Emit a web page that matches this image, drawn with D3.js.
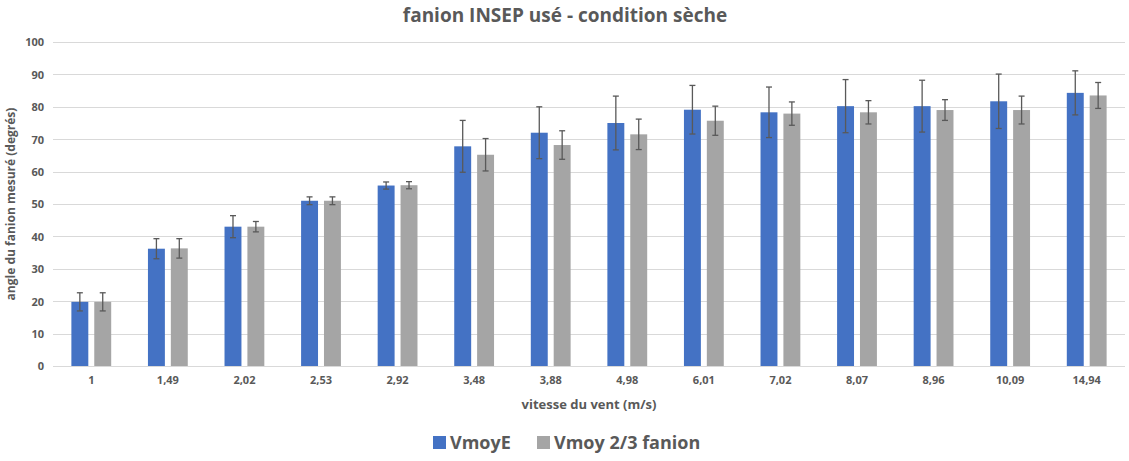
<!DOCTYPE html>
<html>
<head>
<meta charset="utf-8">
<script src="https://cdn.jsdelivr.net/npm/d3@7"></script>
<style>
  body { margin: 0; background: #fff; }
  text { font-family: "Open Sans", "Liberation Sans", sans-serif; fill: #595959; font-weight: bold; }
</style>
</head>
<body>
<div id="Area"></div>
<script>
// data
var categories = ["1", "1,49", "2,02", "2,53", "2,92", "3,48", "3,88", "4,98", "6,01", "7,02", "8,07", "8,96", "10,09", "14,94"];
var seriesNames = ["VmoyE", "Vmoy 2/3 fanion"];
var vmoyE =      [19.8, 36.2, 43.0, 51.0, 55.7, 67.8, 72.0, 75.0, 79.1, 78.3, 80.2, 80.2, 81.7, 84.3];
var vmoyEErr =   [2.8, 3.1, 3.4, 1.2, 1.1, 8.0, 8.0, 8.3, 7.5, 7.8, 8.2, 8.0, 8.4, 6.8];
var vmoy23 =     [19.8, 36.3, 43.0, 51.0, 55.8, 65.2, 68.2, 71.5, 75.7, 77.9, 78.3, 79.0, 79.0, 83.5];
var vmoy23Err =  [2.8, 3.0, 1.6, 1.2, 1.1, 5.0, 4.4, 4.7, 4.5, 3.6, 3.6, 3.2, 4.3, 4.0];
var yTicks = [0, 10, 20, 30, 40, 50, 60, 70, 80, 90, 100];
var colors = ["#4472C4", "#A5A5A5"];

var width = 1129, height = 461;
var margin = {top: 42, right: 4, bottom: 96, left: 53};

var svg = d3.select("#Area").append("svg")
    .attr("width", width)
    .attr("height", height);

var x = d3.scaleBand()
    .domain(categories)
    .range([margin.left, width - margin.right])
    .paddingInner(0.48)
    .paddingOuter(0.24);

var xSub = d3.scaleBand()
    .domain(seriesNames)
    .range([0, x.bandwidth()])
    .paddingInner(0.26);

var y = d3.scaleLinear()
    .domain([0, 100])
    .range([height - margin.bottom + 1, margin.top]);

// gridlines
svg.append("g")
    .selectAll("line")
    .data(yTicks)
    .enter()
    .append("line")
    .attr("x1", margin.left)
    .attr("x2", width - margin.right)
    .attr("y1", function(d) { return Math.round(y(d)) + 0.5; })
    .attr("y2", function(d) { return Math.round(y(d)) + 0.5; })
    .attr("stroke", "#d9d9d9")
    .attr("stroke-width", 1);

// y axis labels
var yAxis = svg.append("g")
    .attr("transform", "translate(" + (margin.left - 9) + ",0)")
    .call(d3.axisLeft(y).tickValues(yTicks).tickSize(0).tickPadding(0));
yAxis.select(".domain").remove();
yAxis.selectAll("text").style("font-size", "11px").attr("dy", "0.35em");

// x axis labels
var xAxis = svg.append("g")
    .attr("transform", "translate(0," + (y(0) + 10) + ")")
    .call(d3.axisBottom(x).tickSize(0).tickPadding(0));
xAxis.select(".domain").remove();
xAxis.selectAll("text").style("font-size", "11px").attr("dy", "0.71em");

// bars
var seriesData = [
    {name: seriesNames[0], values: vmoyE, err: vmoyEErr, color: colors[0]},
    {name: seriesNames[1], values: vmoy23, err: vmoy23Err, color: colors[1]}
];

seriesData.forEach(function(s) {
    var g = svg.append("g");
    g.selectAll("rect")
        .data(s.values)
        .enter()
        .append("rect")
        .attr("x", function(d, i) { return x(categories[i]) + xSub(s.name); })
        .attr("y", function(d) { return y(d); })
        .attr("width", xSub.bandwidth())
        .attr("height", function(d) { return y(0) - y(d); })
        .attr("fill", s.color);

    // error bars
    var eb = g.selectAll(".err")
        .data(s.values)
        .enter()
        .append("g")
        .attr("transform", function(d, i) {
            return "translate(" + (x(categories[i]) + xSub(s.name) + xSub.bandwidth() / 2) + ",0)";
        });
    eb.append("line")
        .attr("x1", 0).attr("x2", 0)
        .attr("y1", function(d, i) { return y(d + s.err[i]); })
        .attr("y2", function(d, i) { return y(d - s.err[i]); })
        .attr("stroke", "#595959").attr("stroke-width", 1.3);
    eb.append("line")
        .attr("x1", -3).attr("x2", 3)
        .attr("y1", function(d, i) { return y(d + s.err[i]); })
        .attr("y2", function(d, i) { return y(d + s.err[i]); })
        .attr("stroke", "#595959").attr("stroke-width", 1.3);
    eb.append("line")
        .attr("x1", -3).attr("x2", 3)
        .attr("y1", function(d, i) { return y(d - s.err[i]); })
        .attr("y2", function(d, i) { return y(d - s.err[i]); })
        .attr("stroke", "#595959").attr("stroke-width", 1.3);
});

// title
svg.append("text")
    .attr("x", 565)
    .attr("y", 22)
    .attr("text-anchor", "middle")
    .style("font-size", "19px")
    .text("fanion INSEP usé - condition sèche");

// axis titles
svg.append("text")
    .attr("transform", "translate(15," + ((y(0) + y(100)) / 2) + ") rotate(-90)")
    .attr("text-anchor", "middle")
    .style("font-size", "12px")
    .text("angle du fanion mesuré (degrés)");

svg.append("text")
    .attr("x", (margin.left + width - margin.right) / 2)
    .attr("y", 409)
    .attr("text-anchor", "middle")
    .style("font-size", "13px")
    .text("vitesse du vent (m/s)");

// legend
var legendX = [433, 537];
var legend = svg.append("g")
    .selectAll("g")
    .data(seriesData)
    .enter()
    .append("g")
    .attr("transform", function(d, i) { return "translate(" + legendX[i] + ",436)"; });
legend.append("rect")
    .attr("width", 13).attr("height", 13)
    .attr("fill", function(d) { return d.color; });
legend.append("text")
    .attr("x", 17)
    .attr("y", 13)
    .style("font-size", "18px")
    .text(function(d) { return d.name; });
</script>
</body>
</html>
